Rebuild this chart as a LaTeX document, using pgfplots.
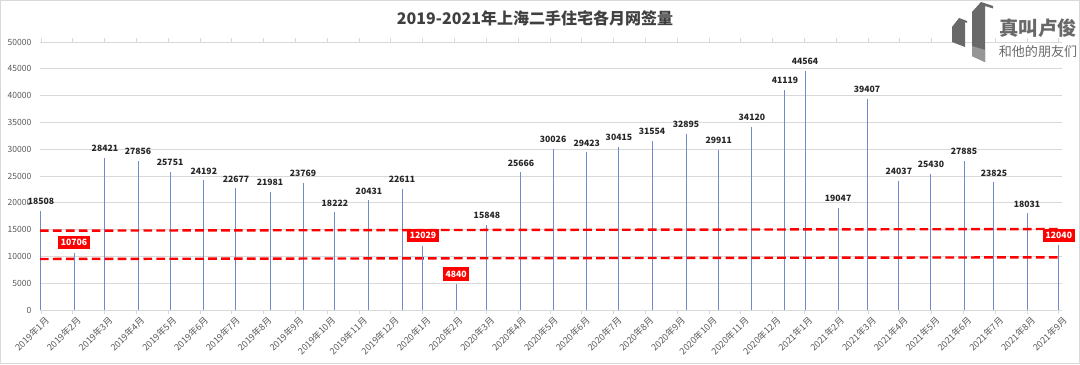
\documentclass[border=0pt]{standalone}
\usepackage{pgfplots}
\pgfplotsset{compat=1.18}
\usepackage{fontspec}
\setmainfont{Noto Sans CJK SC}
\definecolor{barblue}{RGB}{110,140,205}
\definecolor{gridgray}{RGB}{217,217,217}
\definecolor{txtgray}{RGB}{89,89,89}
\definecolor{logogray}{RGB}{105,105,105}
\definecolor{ttlgray}{RGB}{64,64,64}
\begin{document}
\begin{tikzpicture}
\begin{axis}[
  at={(0,0)}, anchor=south west,
  scale only axis, width=766.5pt, height=201pt,
  xmin=-0.031, xmax=32.1, ymin=0, ymax=50000,
  axis line style={draw=none},
  /pgf/number format/assume math mode=true,
  /pgf/number format/1000 sep={},
  scaled y ticks=false,
  ytick={0,5000,...,50000},
  yticklabel style={font=\fontsize{6.4}{7}\selectfont, text=txtgray},
  ymajorgrids, grid style={gridgray, line width=0.6pt},
  xtick={0,...,32},
  xticklabels={2019年1月,2019年2月,2019年3月,2019年4月,2019年5月,2019年6月,2019年7月,2019年8月,2019年9月,2019年10月,2019年11月,2019年12月,2020年1月,2020年2月,2020年3月,2020年4月,2020年5月,2020年6月,2020年7月,2020年8月,2020年9月,2020年10月,2020年11月,2020年12月,2021年1月,2021年2月,2021年3月,2021年4月,2021年5月,2021年6月,2021年7月,2021年8月,2021年9月},
  xticklabel style={rotate=45, anchor=north east, font=\fontsize{6.8}{7.5}\selectfont, text=txtgray, inner sep=1pt, xshift=2pt, yshift=-1.5pt},
  tick align=outside, major tick length=3pt,
  xtick style={draw=gridgray, line width=0.6pt},
  ytick style={draw=none},
  clip=false,
  point meta=explicit symbolic,
]
\addplot[ycomb, barblue, line width=0.75pt, no marks, nodes near coords,
  nodes near coords style={anchor=center, yshift=7pt, text=black!85, font=\fontsize{6.5}{7}\selectfont\bfseries}]
coordinates {
(0,18508)[18508]
(2.01,28421)[28421]
(3.05,27856)[27856]
(4.06,25751)[25751]
(5.12,24192)[24192]
(6.13,22677)[22677]
(7.20,21981)[21981]
(8.24,23769)[23769]
(9.24,18222)[18222]
(10.31,20431)[20431]
(11.35,22611)[22611]
(14.02,15848)[15848]
(15.09,25666)[25666]
(16.10,30026)[30026]
(17.16,29423)[29423]
(18.17,30415)[30415]
(19.21,31554)[31554]
(20.28,32895)[32895]
(21.31,29911)[29911]
(22.35,34120)[34120]
(23.39,41119)[41119]
(24.02,44564)[44564]
(25.06,19047)[19047]
(25.97,39407)[39407]
(26.97,24037)[24037]
(27.98,25430)[25430]
(29.02,27885)[27885]
(29.96,23825)[23825]
(31.00,18031)[18031]
};
\draw[red, line width=1.8pt, dash pattern=on 6.5pt off 3.2pt] (axis cs:-0.03,14800) -- (axis cs:32.0,15110);
\draw[red, line width=1.8pt, dash pattern=on 6.5pt off 3.2pt] (axis cs:-0.03,9520) -- (axis cs:32.0,9830);
\addplot[ycomb, barblue, line width=0.75pt, no marks, nodes near coords,
  nodes near coords style={anchor=center, yshift=7.5pt, fill=red, text=white, inner xsep=2pt, inner ysep=2.5pt, font=\fontsize{6.5}{7}\selectfont\bfseries}]
coordinates {
(1.04,10706)[10706]
(12.01,12029)[12029]
(13.05,4840)[4840]
(32.0,12040)[12040]
};
\end{axis}
\begin{scope}[x=0.75pt, y=-0.75pt, shift={(-40,-310)}]
\path[use as bounding box] (0,0) rectangle (1080,364);
\draw[gridgray, line width=0.75pt] (0.5,0.5) rectangle (1079.5,363.5);
\node[font=\fontsize{12}{14}\selectfont\bfseries, text=ttlgray] at (535,18) {2019-2021年上海二手住宅各月网签量};
\fill[logogray] (972,12) -- (981,2) -- (993,6) -- (993,8.5) -- (985,6) -- (985,62) -- (972,56) -- cycle;
\fill[logogray!70] (972,46) -- (985,50) -- (985,62) -- (972,56) -- cycle;
\fill[logogray] (952,27) -- (959,18) -- (967,21) -- (967,23) -- (965,22) -- (965,47) -- (952,42) -- cycle;
\node[font=\fontsize{14.5}{16}\selectfont\bfseries, text=logogray, inner sep=0pt] at (1038,28) {真叫卢俊};
\node[font=\fontsize{9.8}{11}\selectfont, text=logogray, inner sep=0pt] at (1038,52) {和他的朋友们};
\end{scope}
\end{tikzpicture}
\end{document}
